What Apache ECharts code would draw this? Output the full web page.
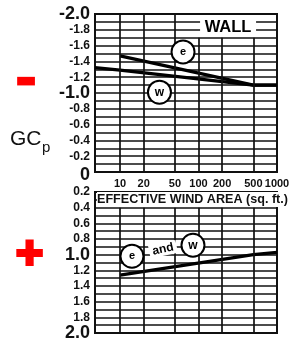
<!DOCTYPE html>
<html>
<head>
<meta charset="utf-8">
<script src="https://cdn.jsdelivr.net/npm/echarts@6/dist/echarts.min.js"></script>
<style>
html,body{margin:0;padding:0;background:#fff;}
#chart{width:297px;height:341px;}
</style>
</head>
<body>
<div id="chart"></div>
<script>
// ---- data ----
const areaTicks = [10, 20, 50, 100, 200, 500, 1000];   // effective wind area tick labels (sq. ft.)
const areaMin = 4.8;
const areaMax = 1000;

const zoneEArea = [10, 500, 1000];
const zoneEGCp  = [-1.47, -1.1, -1.1];

const zoneWArea = [4.8, 10, 500, 1000];
const zoneWGCp  = [-1.32, -1.29, -1.1, -1.1];

const posArea = [10, 500, 1000];
const posGCp  = [1.26, 1.0, 0.97];

const topTicks    = [-2.0, -1.8, -1.6, -1.4, -1.2, -1.0, -0.8, -0.6, -0.4, -0.2, 0];
const bottomTicks = [0.2, 0.4, 0.6, 0.8, 1.0, 1.2, 1.4, 1.6, 1.8, 2.0];
const majorTicks  = [-2.0, -1.0, 0, 1.0, 2.0];

// ---- chart ----
const FONT = '"Liberation Sans", Arial, sans-serif';
const lg = Math.log10;
const key = v => Math.round(v * 10);
const topSet = new Set(topTicks.map(key));
const botSet = new Set(bottomTicks.map(key));
const majSet = new Set(majorTicks.map(key));

function yFmt(set) {
  return function (v) {
    const k = key(v);
    if (!set.has(k)) return '';
    if (k === 0) return '{zero|0}';
    const s = (k / 10).toFixed(1);
    return majSet.has(k) ? '{big|' + s + '}' : '{small|' + s + '}';
  };
}
const yRich = {
  big:   {fontFamily: FONT, fontSize: 18, fontWeight: 'bold', color: '#111'},
  zero:  {fontFamily: FONT, fontSize: 18, fontWeight: 'bold', color: '#111', padding: [7, 0, 0, 0]},
  small: {fontFamily: FONT, fontSize: 12, fontWeight: 'bold', color: '#111'}
};

const gridLine = {color: '#111', width: 1.7, type: 'solid'};
const dataLine = {color: '#000', width: 3.3, type: 'solid'};

const xs = areaTicks.filter(a => a < areaMax);
const topVert = xs.map(a => [
  {coord: [lg(a), 0]},
  {coord: [lg(a), a >= 100 ? -1.7 : -2.0]}
]);
const botVert = xs.map(a => [
  {coord: [lg(a), 0.4]},
  {coord: [lg(a), 2.0]}
]);

function circle(name, area, gcp) {
  return {
    name: name, coord: [lg(area), gcp], symbol: 'circle', symbolSize: 23,
    itemStyle: {color: '#fff', borderColor: '#000', borderWidth: 2},
    label: {show: true, position: 'inside', formatter: name, color: '#000',
            fontFamily: FONT, fontWeight: 'bold', fontSize: name === 'w' ? 12 : 11}
  };
}

const markLineBase = {
  silent: true, symbol: ['none', 'none'], animation: false,
  label: {show: false}, lineStyle: gridLine, emphasis: {disabled: true}
};

const option = {
  animation: false,
  backgroundColor: '#fff',
  title: [{
    text: 'EFFECTIVE WIND AREA (sq. ft.)',
    left: 97, top: 192, padding: [1, 0, 1, 0], backgroundColor: '#fff',
    textStyle: {fontFamily: FONT, fontSize: 12.6, fontWeight: 'bold', color: '#111', lineHeight: 13}
  }],
  grid: [
    {left: 95, top: 14, width: 182, height: 158, show: true, borderColor: '#111', borderWidth: 2,
     backgroundColor: 'transparent', outerBoundsMode: 'none', containLabel: false},
    {left: 95, top: 192, width: 182, height: 141, show: true, borderColor: '#111', borderWidth: 2,
     backgroundColor: 'transparent', outerBoundsMode: 'none', containLabel: false}
  ],
  xAxis: [
    {type: 'value', gridIndex: 0, min: lg(areaMin), max: lg(areaMax),
     axisLine: {show: false}, axisTick: {show: false}, splitLine: {show: false},
     axisLabel: {show: true, customValues: areaTicks.map(lg), margin: 6,
                 formatter: v => String(Math.round(Math.pow(10, v))),
                 fontFamily: FONT, fontSize: 11, fontWeight: 'bold', color: '#111'}},
    {type: 'value', gridIndex: 1, min: lg(areaMin), max: lg(areaMax), show: false,
     splitLine: {show: false}}
  ],
  yAxis: [
    {type: 'value', gridIndex: 0, min: -2.0, max: 0, interval: 0.1, inverse: true,
     axisLine: {show: false}, axisTick: {show: false},
     splitLine: {show: true, lineStyle: gridLine},
     axisLabel: {formatter: yFmt(topSet), rich: yRich, margin: 5, showMinLabel: true, showMaxLabel: true}},
    {type: 'value', gridIndex: 1, min: 0.2, max: 2.0, interval: 0.1, inverse: true,
     axisLine: {show: false}, axisTick: {show: false},
     splitLine: {show: true, lineStyle: gridLine},
     axisLabel: {formatter: yFmt(botSet), rich: yRich, margin: 5, showMinLabel: true, showMaxLabel: true}}
  ],
  series: [
    {
      name: 'e', type: 'line', xAxisIndex: 0, yAxisIndex: 0, symbol: 'none', silent: true, z: 3,
      lineStyle: dataLine,
      data: zoneEArea.map((a, i) => [lg(a), zoneEGCp[i]]),
      markLine: Object.assign({}, markLineBase, {data: topVert}),
      markPoint: {
        silent: true, animation: false,
        data: [
          circle('e', 63.5, -1.52),
          {name: 'WALL', coord: [lg(238), -1.835], symbol: 'rect', symbolSize: [56, 19],
           itemStyle: {color: '#fff'},
           label: {show: true, position: 'inside', formatter: 'WALL', color: '#000',
                   fontFamily: FONT, fontWeight: 'bold', fontSize: 16.5}}
        ]
      }
    },
    {
      name: 'w', type: 'line', xAxisIndex: 0, yAxisIndex: 0, symbol: 'none', silent: true, z: 3,
      lineStyle: dataLine,
      data: zoneWArea.map((a, i) => [lg(a), zoneWGCp[i]]),
      markPoint: {silent: true, animation: false, data: [circle('w', 31.8, -1.01)]}
    },
    {
      name: 'e and w', type: 'line', xAxisIndex: 1, yAxisIndex: 1, symbol: 'none', silent: true, z: 3,
      lineStyle: dataLine,
      data: posArea.map((a, i) => [lg(a), posGCp[i]]),
      markLine: Object.assign({}, markLineBase, {data: botVert}),
      markPoint: {
        silent: true, animation: false,
        data: [
          circle('e', 14.2, 1.02),
          {name: 'and', coord: [lg(35.3), 0.93], symbol: 'rect', symbolSize: [28, 13], symbolRotate: 12,
           itemStyle: {color: '#fff'},
           label: {show: true, position: 'inside', formatter: 'and', rotate: 12, color: '#000',
                   fontFamily: FONT, fontWeight: 'bold', fontSize: 12}},
          circle('w', 85, 0.88)
        ]
      }
    }
  ],
  graphic: [
    {type: 'text', x: 10, y: 129, silent: true,
     style: {text: 'GC', fontFamily: FONT, fontSize: 21, fill: '#111'}},
    {type: 'text', x: 42, y: 140, silent: true,
     style: {text: 'p', fontFamily: FONT, fontSize: 15, fill: '#111'}},
    {type: 'text', x: 26, y: 82, silent: true,
     style: {text: '\u2212', align: 'center', verticalAlign: 'middle', fontFamily: '"DejaVu Sans"',
             fontWeight: 'bold', fontSize: 18, fill: '#ff0000', stroke: '#ff0000', lineWidth: 6.5, lineJoin: 'miter'}},
    {type: 'text', x: 29.5, y: 254.5, silent: true,
     style: {text: '+', align: 'center', verticalAlign: 'middle', fontFamily: '"DejaVu Sans"',
             fontWeight: 'bold', fontSize: 36, fill: '#ff0000', stroke: '#ff0000', lineWidth: 4, lineJoin: 'miter'}}
  ]
};

const chart = echarts.init(document.getElementById('chart'), null, {renderer: 'canvas'});
chart.setOption(option);
</script>
</body>
</html>
